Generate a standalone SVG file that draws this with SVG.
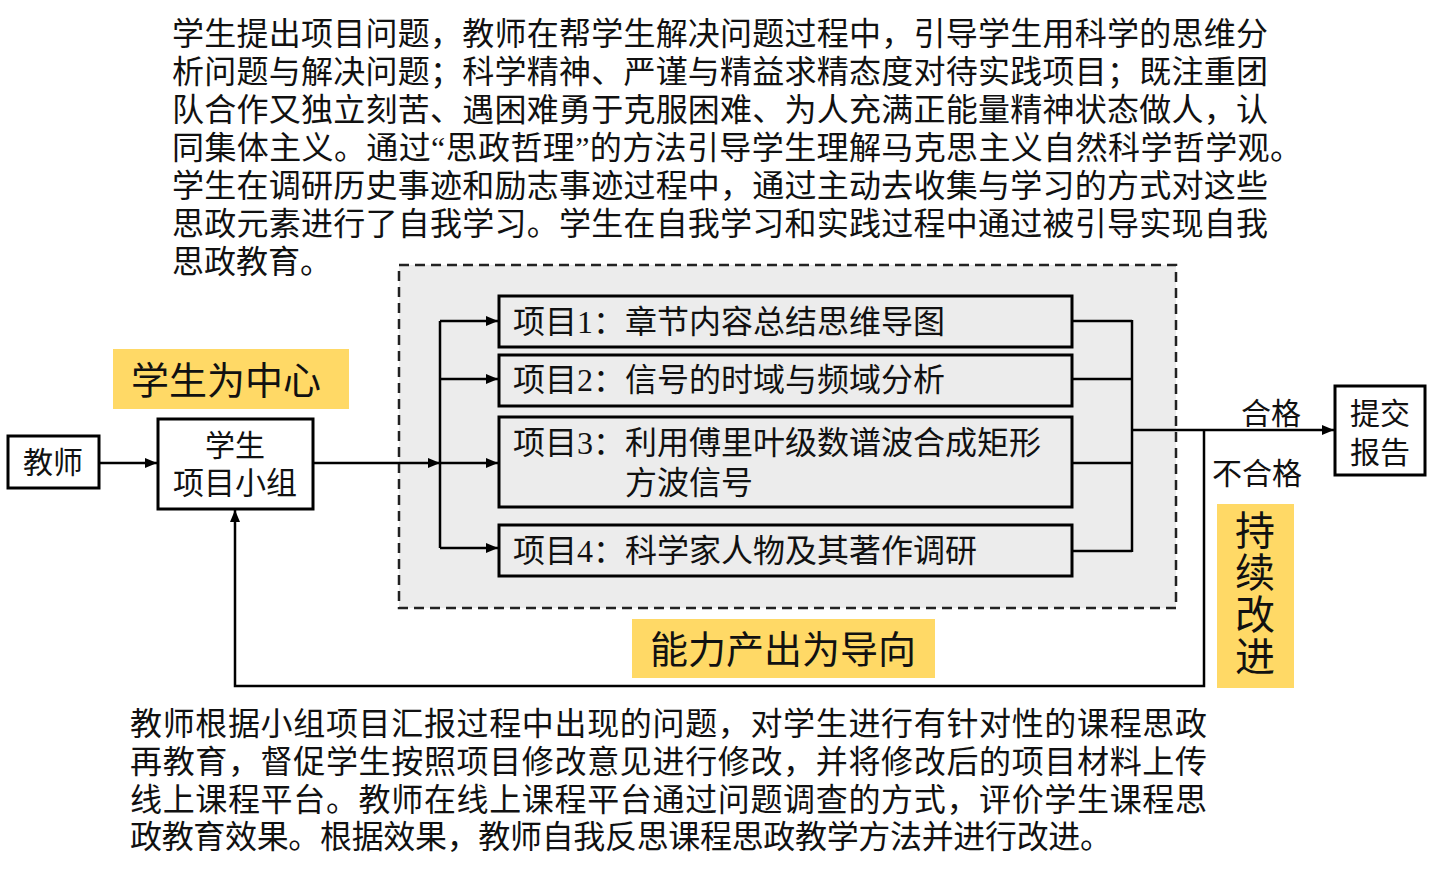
<svg xmlns="http://www.w3.org/2000/svg" width="1432" height="874" viewBox="0 0 1432 874">
<defs>
<marker id="ah" viewBox="0 0 12 10" refX="12" refY="5" markerWidth="12" markerHeight="10" markerUnits="userSpaceOnUse" orient="auto">
<path d="M0,0 L12,5 L0,10 z" fill="#000"/>
</marker>
<style>
text{font-family:"Liberation Serif","Noto Sans CJK SC",serif;fill:#111;}
.p{font-size:32px;}
.b{font-size:32px;}
.n{font-size:30px;text-anchor:middle;}
.y{font-size:38px;text-anchor:middle;}
.box{fill:#fff;stroke:#000;stroke-width:3;}
.pbox{fill:#ececec;stroke:#000;stroke-width:3;}
.hl{fill:#ffd966;}
.c{fill:none;stroke:#000;stroke-width:2.5;}
</style>
</defs>
<rect width="1432" height="874" fill="#fff"/>

<g id="top-text">
<text class="p" x="172" y="45" textLength="1096" lengthAdjust="spacing">学生提出项目问题，教师在帮学生解决问题过程中，引导学生用科学的思维分</text>
<text class="p" x="172" y="83" textLength="1096" lengthAdjust="spacing">析问题与解决问题；科学精神、严谨与精益求精态度对待实践项目；既注重团</text>
<text class="p" x="172" y="121" textLength="1096" lengthAdjust="spacing">队合作又独立刻苦、遇困难勇于克服困难、为人充满正能量精神状态做人，认</text>
<text class="p" x="172" y="159" textLength="1130" lengthAdjust="spacing">同集体主义。通过“思政哲理”的方法引导学生理解马克思主义自然科学哲学观。</text>
<text class="p" x="172" y="197" textLength="1096" lengthAdjust="spacing">学生在调研历史事迹和励志事迹过程中，通过主动去收集与学习的方式对这些</text>
<text class="p" x="172" y="235" textLength="1096" lengthAdjust="spacing">思政元素进行了自我学习。学生在自我学习和实践过程中通过被引导实现自我</text>
<text class="p" x="172" y="273">思政教育。</text>
</g>

<g id="container">
<rect x="399" y="265" width="777" height="343" fill="#ececec" stroke="#222" stroke-width="2.5" stroke-dasharray="10 6"/>
</g>

<g id="label-student-center">
<rect class="hl" x="113" y="349" width="236" height="60"/>
<text class="y" x="226" y="394">学生为中心</text>
</g>

<g id="label-ability">
<rect class="hl" x="632" y="619" width="303" height="59"/>
<text class="y" x="783" y="663">能力产出为导向</text>
</g>

<g id="label-improve">
<rect class="hl" x="1217" y="504" width="77" height="184"/>
<text class="y" x="1255" y="545" style="font-size:40px">持</text>
<text class="y" x="1255" y="587" style="font-size:40px">续</text>
<text class="y" x="1255" y="629" style="font-size:40px">改</text>
<text class="y" x="1255" y="671" style="font-size:40px">进</text>
</g>

<g id="teacher">
<rect class="box" x="8" y="436" width="91" height="52"/>
<text class="n" x="53" y="473">教师</text>
</g>

<g id="group">
<rect class="box" x="158" y="419" width="155" height="90"/>
<text class="n" x="235" y="456">学生</text>
<text class="n" x="235" y="494" style="font-size:31px">项目小组</text>
</g>

<g id="project1">
<rect class="pbox" x="499" y="296" width="573" height="51"/>
<text class="b" x="513" y="333">项目1：章节内容总结思维导图</text>
</g>
<g id="project2">
<rect class="pbox" x="499" y="355" width="573" height="51"/>
<text class="b" x="513" y="391">项目2：信号的时域与频域分析</text>
</g>
<g id="project3">
<rect class="pbox" x="499" y="417" width="573" height="90"/>
<text class="b" x="513" y="454">项目3：利用傅里叶级数谱波合成矩形</text>
<text class="b" x="625" y="494">方波信号</text>
</g>
<g id="project4">
<rect class="pbox" x="499" y="525" width="573" height="51"/>
<text class="b" x="513" y="562">项目4：科学家人物及其著作调研</text>
</g>

<g id="report">
<rect class="box" x="1335" y="386" width="90" height="89"/>
<text class="n" x="1380" y="424">提交</text>
<text class="n" x="1380" y="463">报告</text>
</g>

<g id="connectors">
<line class="c" x1="99" y1="463" x2="157" y2="463" marker-end="url(#ah)"/>
<line class="c" x1="313" y1="463" x2="440" y2="463" marker-end="url(#ah)"/>
<line class="c" x1="440" y1="321" x2="440" y2="548"/>
<line class="c" x1="440" y1="321" x2="498" y2="321" marker-end="url(#ah)"/>
<line class="c" x1="440" y1="379" x2="498" y2="379" marker-end="url(#ah)"/>
<line class="c" x1="440" y1="463" x2="498" y2="463" marker-end="url(#ah)"/>
<line class="c" x1="440" y1="548" x2="498" y2="548" marker-end="url(#ah)"/>
<line class="c" x1="1072" y1="321" x2="1132" y2="321"/>
<line class="c" x1="1072" y1="379" x2="1132" y2="379"/>
<line class="c" x1="1072" y1="463" x2="1132" y2="463"/>
<line class="c" x1="1072" y1="551" x2="1132" y2="551"/>
<line class="c" x1="1132" y1="320" x2="1132" y2="552"/>
<line class="c" x1="1132" y1="430" x2="1334" y2="430" marker-end="url(#ah)"/>
<polyline class="c" points="1204,430 1204,686 235,686 235,510" marker-end="url(#ah)"/>
<text class="n" x="1271" y="424">合格</text>
<text class="n" x="1257" y="484">不合格</text>
</g>

<g id="bottom-text">
<text class="p" x="130" y="735" textLength="1077" lengthAdjust="spacing">教师根据小组项目汇报过程中出现的问题，对学生进行有针对性的课程思政</text>
<text class="p" x="130" y="773" textLength="1077" lengthAdjust="spacing">再教育，督促学生按照项目修改意见进行修改，并将修改后的项目材料上传</text>
<text class="p" x="130" y="811" textLength="1077" lengthAdjust="spacing">线上课程平台。教师在线上课程平台通过问题调查的方式，评价学生课程思</text>
<text class="p" x="130" y="848" textLength="982" lengthAdjust="spacing">政教育效果。根据效果，教师自我反思课程思政教学方法并进行改进。</text>
</g>
</svg>
